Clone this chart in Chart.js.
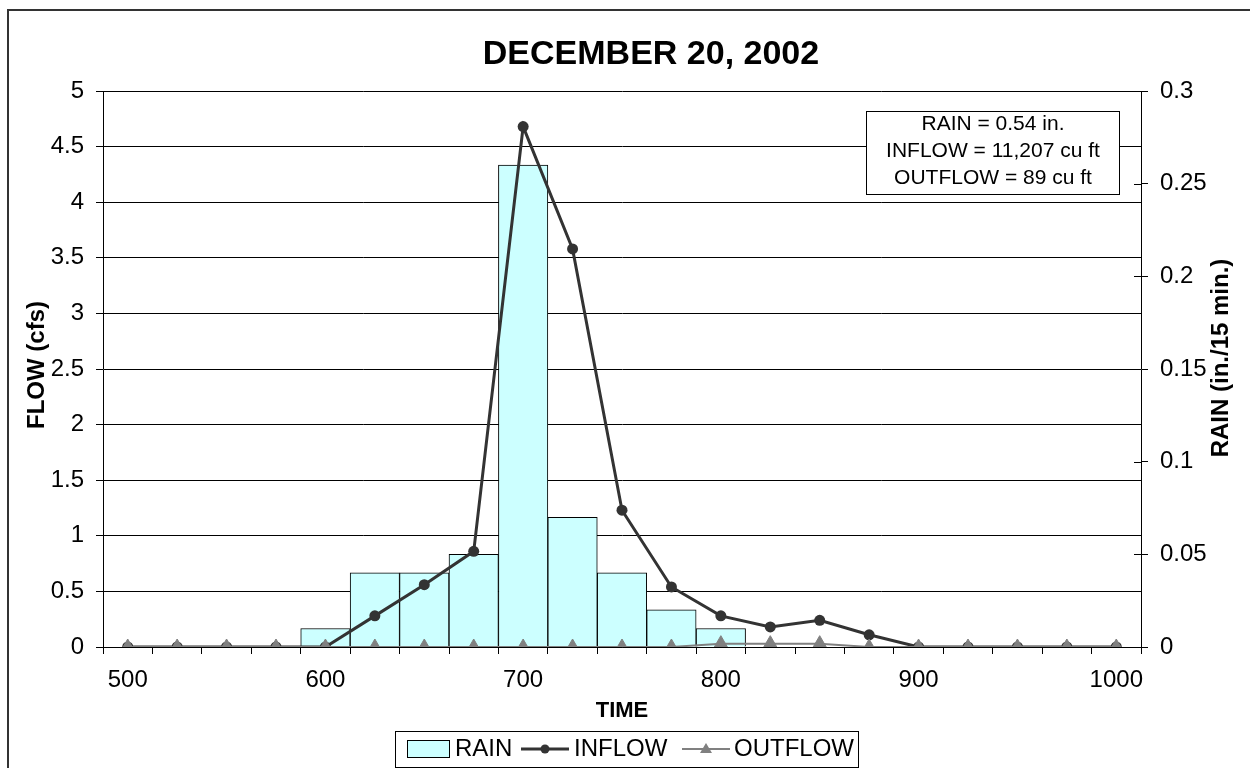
<!DOCTYPE html>
<html><head><meta charset="utf-8">
<script src="https://cdn.jsdelivr.net/npm/chart.js@4.4.0/dist/chart.umd.min.js"></script>
<style>html,body{margin:0;padding:0;background:#fff}</style>
</head><body>
<canvas id="c" width="1250" height="768"></canvas>
<script>
const times = ['500','525','550','575','600','625','650','675','700','725','750','775','800','825','850','875','900','925','950','975','1000'];
const rain = [0,0,0,0,0.01,0.04,0.04,0.05,0.26,0.07,0.04,0.02,0.01,0,0,0,0,0,0,0,0];
const inflow = [0,0,0,0,0,0.28,0.56,0.86,4.68,3.58,1.23,0.54,0.28,0.18,0.24,0.11,0,0,0,0,0];
const outflow = [0,0,0,0,0,0,0,0,0,0,0,0,0.03,0.03,0.03,0,0,0,0,0,0];
const xLabelsShown = ['500','600','700','800','900','1000'];
const titleText = 'DECEMBER 20, 2002';
const summaryLines = ['RAIN = 0.54 in.', 'INFLOW = 11,207 cu ft', 'OUTFLOW = 89 cu ft'];
const FONT = '"Liberation Sans", Arial, sans-serif';

const deco = {
  id: 'deco',
  beforeDraw(chart) {
    const ctx = chart.ctx; ctx.save(); ctx.fillStyle = '#fff'; ctx.fillRect(0, 0, chart.width, chart.height); ctx.restore();
  },
  afterDraw(chart) {
    const ctx = chart.ctx, a = chart.chartArea, ds = chart.data.datasets;
    ctx.save();
    ctx.strokeStyle = '#333'; ctx.lineWidth = 2; ctx.strokeRect(8, 10, 1300, 800);
    ctx.fillStyle = '#000'; ctx.textAlign = 'center'; ctx.textBaseline = 'middle';
    ctx.font = 'bold 34px ' + FONT; ctx.fillText(titleText, 651, 55);
    ctx.font = 'bold 22px ' + FONT; ctx.fillText('TIME', (a.left + a.right) / 2, 711);
    ctx.font = 'bold 24px ' + FONT;
    ctx.save(); ctx.translate(37, 365); ctx.rotate(-Math.PI / 2); ctx.fillText('FLOW (cfs)', 0, 0); ctx.restore();
    ctx.save(); ctx.translate(1221, 358); ctx.rotate(-Math.PI / 2); ctx.fillText('RAIN (in./15 min.)', 0, 0); ctx.restore();
    // inner part of right axis ticks
    const y1 = chart.scales.y1; ctx.strokeStyle = '#000'; ctx.lineWidth = 1;
    y1.ticks.forEach(t => { const y = Math.round(y1.getPixelForValue(t.value)) + 0.5; ctx.beginPath(); ctx.moveTo(a.right - 7, y); ctx.lineTo(a.right, y); ctx.stroke(); });
    // summary box
    ctx.fillStyle = '#fff'; ctx.fillRect(866, 111, 254, 83);
    ctx.strokeStyle = '#000'; ctx.strokeRect(866.5, 111.5, 253, 83);
    ctx.fillStyle = '#000'; ctx.font = '21px ' + FONT; ctx.textAlign = 'center';
    summaryLines.forEach((s, i) => ctx.fillText(s, 993, 124 + i * 27));
    // legend
    ctx.fillStyle = '#fff'; ctx.fillRect(395, 731, 464, 36);
    ctx.strokeStyle = '#000'; ctx.lineWidth = 1; ctx.strokeRect(395.5, 731.5, 463, 36);
    const ly = 749;
    ctx.fillStyle = ds[0].backgroundColor; ctx.fillRect(407, 740, 42, 17);
    ctx.strokeStyle = ds[0].borderColor; ctx.strokeRect(407.5, 740.5, 42, 17);
    ctx.fillStyle = '#000'; ctx.font = '24px ' + FONT; ctx.textAlign = 'left';
    ctx.fillText(ds[0].label, 455, ly);
    ctx.strokeStyle = ds[1].borderColor; ctx.lineWidth = 3; ctx.beginPath(); ctx.moveTo(521, ly); ctx.lineTo(569, ly); ctx.stroke();
    ctx.fillStyle = ds[1].borderColor; ctx.beginPath(); ctx.arc(545, ly, 4.5, 0, Math.PI * 2); ctx.fill();
    ctx.fillStyle = '#000'; ctx.fillText(ds[1].label, 574, ly);
    ctx.strokeStyle = ds[2].borderColor; ctx.lineWidth = 2; ctx.beginPath(); ctx.moveTo(682, ly); ctx.lineTo(730, ly); ctx.stroke();
    ctx.fillStyle = ds[2].borderColor; ctx.beginPath(); ctx.moveTo(706, ly - 6); ctx.lineTo(712, ly + 4); ctx.lineTo(700, ly + 4); ctx.closePath(); ctx.fill();
    ctx.fillStyle = '#000'; ctx.fillText(ds[2].label, 734, ly);
    ctx.restore();
  }
};

const tickFont = { family: FONT, size: 24 };
const fmt = v => String(+(+v).toFixed(2));
new Chart(document.getElementById('c'), {
  data: {
    labels: times,
    datasets: [
      { type: 'bar', label: 'RAIN', data: rain, yAxisID: 'y1', backgroundColor: '#ccffff', borderColor: '#000', borderWidth: 1, barPercentage: 1, categoryPercentage: 1, order: 3 },
      { type: 'line', label: 'INFLOW', data: inflow, yAxisID: 'y', borderColor: '#333333', backgroundColor: '#333333', borderWidth: 3, pointRadius: 5.5, pointBackgroundColor: '#333333', pointBorderColor: '#333333', pointBorderWidth: 0, tension: 0, order: 2 },
      { type: 'line', label: 'OUTFLOW', data: outflow, yAxisID: 'y', borderColor: '#808080', backgroundColor: '#808080', borderWidth: 2, pointStyle: 'triangle', pointRadius: 8, pointBackgroundColor: '#808080', pointBorderColor: '#808080', pointBorderWidth: 1, tension: 0, order: 1 }
    ]
  },
  options: {
    responsive: false, animation: false, devicePixelRatio: 1,
    layout: { padding: { top: 91, left: 0, right: 0, bottom: 0 } },
    plugins: { legend: { display: false }, title: { display: false }, tooltip: { enabled: false } },
    scales: {
      x: {
        type: 'category', offset: true,
        grid: { offset: true, drawOnChartArea: false, tickLength: 7, color: '#000', lineWidth: 1 },
        border: { display: true, color: '#000' },
        ticks: { autoSkip: false, maxRotation: 0, padding: 12, font: tickFont, color: '#000',
          callback(v) { const l = this.getLabelForValue(v); return xLabelsShown.includes(l) ? l : ''; } },
        afterFit(s) { s.height = 121; }
      },
      y: {
        position: 'left', min: 0, max: 5,
        ticks: { stepSize: 0.5, padding: 12, font: tickFont, color: '#000', callback: fmt },
        grid: { color: '#000', lineWidth: 1, tickLength: 7 },
        border: { display: true, color: '#000' },
        afterFit(s) { s.width = 103; }
      },
      y1: {
        position: 'right', min: 0, max: 0.3,
        ticks: { stepSize: 0.05, padding: 12, font: tickFont, color: '#000', callback: fmt },
        grid: { drawOnChartArea: false, color: '#000', lineWidth: 1, tickLength: 7 },
        border: { display: true, color: '#000' },
        afterFit(s) { s.width = 109; }
      }
    }
  },
  plugins: [deco]
});
</script>
</body></html>
